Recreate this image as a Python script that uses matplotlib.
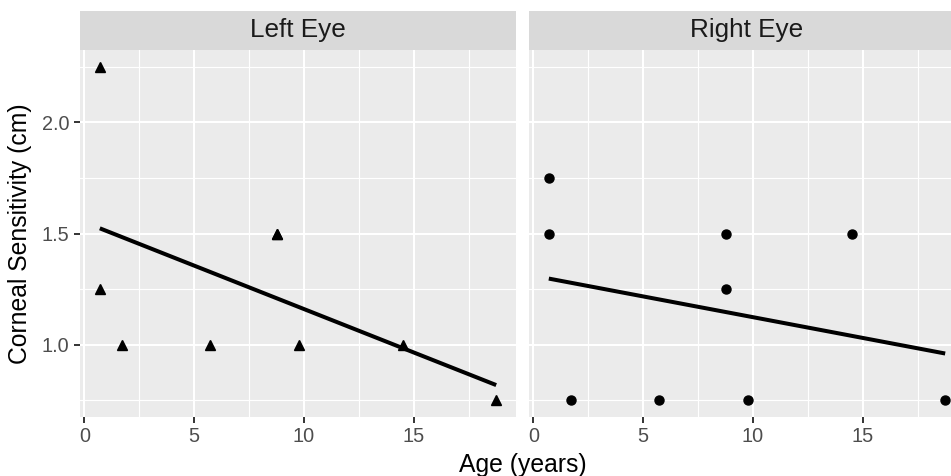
import numpy as np
import matplotlib
matplotlib.use("Agg")
import matplotlib.pyplot as plt
from matplotlib.patches import Rectangle

plt.rcParams['font.family'] = ['Liberation Sans', 'DejaVu Sans']

# ---- data ----
panels = ["Left Eye", "Right Eye"]
age_left = [0.7, 0.7, 1.7, 5.7, 8.75, 8.75, 9.75, 14.5, 18.75]
sens_left = [2.25, 1.25, 1.0, 1.0, 1.5, 1.5, 1.0, 1.0, 0.75]
age_right = [0.7, 0.7, 1.7, 5.7, 8.75, 8.75, 9.75, 14.5, 18.75]
sens_right = [1.75, 1.5, 0.75, 0.75, 1.5, 1.25, 0.75, 1.5, 0.75]
markers = ["^", "o"]
xticks = [0, 5, 10, 15]
yticks = [1.0, 1.5, 2.0]
xlabel = "Age (years)"
ylabel = "Corneal Sensitivity (cm)"

W, H = 951, 476
fig = plt.figure(figsize=(W / 100, H / 100), dpi=100)
fig.patch.set_facecolor("white")

def px_axes(x0, y0, x1, y1):
    return fig.add_axes([x0 / W, 1 - y1 / H, (x1 - x0) / W, (y1 - y0) / H])

panel_top, panel_bot = 50, 417
strip_top = 11
lefts = [(80, 516), (529, 965)]

xs_all = age_left + age_right
ys_all = sens_left + sens_right
xmin, xmax = min(xs_all), max(xs_all)
ymin, ymax = min(ys_all), max(ys_all)
xr = (xmax - xmin) * 0.05
yr = (ymax - ymin) * 0.05

datasets = [(age_left, sens_left), (age_right, sens_right)]
for i, ((x0, x1), (ax_x, ax_y)) in enumerate(zip(lefts, datasets)):
    ax = px_axes(x0, panel_top, x1, panel_bot)
    ax.set_facecolor("#EBEBEB")
    ax.set_xlim(xmin - xr, xmax + xr)
    ax.set_ylim(ymin - yr, ymax + yr)
    for s in ax.spines.values():
        s.set_visible(False)
    ax.set_xticks(xticks)
    ax.set_xticks([2.5, 7.5, 12.5, 17.5], minor=True)
    ax.set_yticks(yticks)
    ax.set_yticks([0.75, 1.25, 1.75, 2.25], minor=True)
    ax.grid(which="major", color="white", linewidth=1.5)
    ax.grid(which="minor", color="white", linewidth=0.8)
    ax.set_axisbelow(True)
    ax.tick_params(which="minor", length=0)
    ax.tick_params(which="major", length=4.5, width=1.4, color="#333333",
                   labelcolor="#4D4D4D", labelsize=14.3, pad=3)
    ax.set_xticklabels([str(t) for t in xticks])
    if i == 0:
        ax.set_yticklabels(["%.1f" % t for t in yticks])
    else:
        ax.tick_params(axis="y", labelleft=False, length=0)
    ax.plot(ax_x, ax_y, linestyle="none", marker=markers[i], color="black",
            markersize=7 if i == 0 else 6.5, clip_on=False, zorder=3)
    # linear fit
    coef = np.polyfit(ax_x, ax_y, 1)
    fx = np.array([min(ax_x), max(ax_x)])
    ax.plot(fx, np.polyval(coef, fx), color="black", linewidth=2.9,
            solid_capstyle="butt", zorder=4)
    # strip
    sax = px_axes(x0, strip_top, x1, panel_top)
    sax.set_xlim(0, 1); sax.set_ylim(0, 1)
    sax.axis("off")
    sax.add_patch(Rectangle((0, 0), 1, 1, facecolor="#D9D9D9", edgecolor="none"))
    sax.text(0.5, 0.5, panels[i], ha="center", va="center", fontsize=18.8,
             color="#1A1A1A")

fig.text((80 + 965) / 2 / W, 1 - 465 / H, xlabel, ha="center", va="center",
         fontsize=17.8, color="black")
fig.text(20 / W, 1 - ((panel_top + panel_bot) / 2) / H, ylabel, ha="center",
         va="center", rotation=90, fontsize=17.8, color="black")

fig.savefig("out.png", dpi=100, facecolor="white")
